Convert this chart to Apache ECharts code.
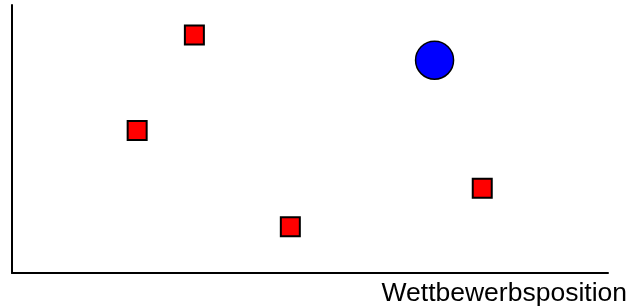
<!DOCTYPE html>
<html>
<head>
<meta charset="utf-8">
<script src="https://cdn.jsdelivr.net/npm/echarts@6/dist/echarts.min.js"></script>
<style>
  html, body { margin: 0; padding: 0; background: #fff; }
  #chart { width: 631px; height: 307px; }
</style>
</head>
<body>
<div id="chart"></div>
<script>
// positions on a 0..100 scale
const squarePoints = [[30.6, 88.8], [21.0, 53.2], [46.7, 17.3], [78.9, 31.6]];
const circlePoints = [[70.9, 79.4]];
const xAxisName = 'Wettbewerbsposition';

const chart = echarts.init(document.getElementById('chart'));

const hiddenAxis = {
    type: 'value',
    min: 0,
    max: 100,
    axisLine: { show: true, lineStyle: { color: '#000', width: 2 } },
    axisTick: { show: false },
    axisLabel: { show: false },
    splitLine: { show: false }
};

const option = {
    animation: false,
    grid: { left: 12, top: 5, right: 23, bottom: 33 },
    xAxis: Object.assign({}, hiddenAxis, {
        name: xAxisName,
        nameLocation: 'end',
        nameGap: 19,
        nameTextStyle: {
            fontFamily: 'Liberation Sans',
            fontSize: 26.5,
            color: '#000',
            align: 'right',
            verticalAlign: 'top',
            padding: [7, 0, 0, 0]
        }
    }),
    yAxis: Object.assign({}, hiddenAxis),
    series: [
        {
            type: 'scatter',
            symbol: 'rect',
            symbolSize: 19,
            itemStyle: { color: '#ff0000', borderColor: '#000', borderWidth: 2, opacity: 1 },
            data: squarePoints
        },
        {
            type: 'scatter',
            symbol: 'circle',
            symbolSize: 38,
            itemStyle: { color: '#0000ff', borderColor: '#000', borderWidth: 1.5, opacity: 1 },
            data: circlePoints
        }
    ]
};

chart.setOption(option);
</script>
</body>
</html>
